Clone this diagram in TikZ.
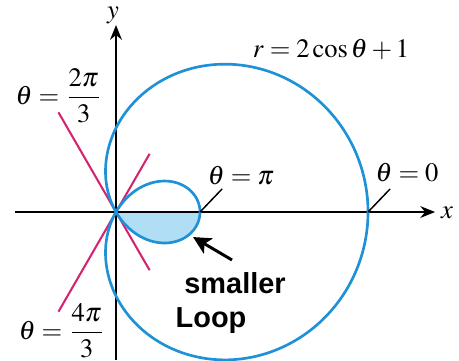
\documentclass[tikz,border=0pt]{standalone}
\usepackage{mathptmx}
\usepackage{fontspec}
\newfontfamily\labfont{Liberation Sans}
\usetikzlibrary{arrows.meta}
\definecolor{curveblue}{RGB}{30,145,215}
\definecolor{loopfill}{RGB}{175,222,245}
\definecolor{linepink}{RGB}{212,35,112}
\tikzset{
  axis/.style={line width=0.7pt,-{Stealth[length=5pt,width=4pt]}},
  curve/.style={curveblue,line width=0.9pt},
  ray/.style={linepink,line width=0.7pt},
  tick/.style={line width=0.5pt},
  mlabel/.style={inner sep=0pt,font=\fontsize{9}{10}\selectfont},
  blabel/.style={inner sep=0pt,font=\labfont\bfseries\fontsize{9.8}{11}\selectfont},
  pointer/.style={line width=1pt,-{Stealth[length=6pt,width=6pt,inset=1.5pt]}}
}
\begin{document}
\begin{tikzpicture}
\useasboundingbox (-1.381,-1.762) rectangle (4.083,2.524);
% filled lower half of the small loop
\fill[loopfill] plot[domain=120:180,samples=60,smooth,variable=\t]
  ({(2*cos(\t)+1)*cos(\t)},{(2*cos(\t)+1)*sin(\t)}) -- cycle;
% coordinates
\coordinate (O) at (0,0);
\coordinate (xs) at (-1.202,0);
\coordinate (xe) at (3.798,0);
\coordinate (ys) at (0,-1.762);
\coordinate (ye) at (0,2.226);
\coordinate (r1a) at (120:1.37);
\coordinate (r1b) at (-60:0.80);
\coordinate (r2a) at (240:1.37);
\coordinate (r2b) at (60:0.80);
\coordinate (pi0) at (1,0);
\coordinate (pi1) at (1.262,0.274);
\coordinate (z0) at (3,0);
\coordinate (z1) at (3.262,0.274);
\coordinate (arrT) at (1.381,-0.571);
\coordinate (arrH) at (0.917,-0.298);
% pink lines
\draw[ray] (r1a) -- (r1b);
\draw[ray] (r2a) -- (r2b);
% axes
\draw[axis] (xs) -- (xe);
\draw[axis] (ys) -- (ye);
% curve
\draw[curve] plot[domain=0:360,samples=240,smooth cycle,variable=\t]
  ({(2*cos(\t)+1)*cos(\t)},{(2*cos(\t)+1)*sin(\t)});
% tick lines
\draw[tick] (pi0) -- (pi1);
\draw[tick] (z0) -- (z1);
% labels
\node[mlabel] (ylab) at (-0.036,2.34) {$y$};
\node[mlabel] (xlab) at (3.94,-0.012) {$x$};
\node[mlabel] (req) at (2.56,1.93) {$r = 2\cos\theta + 1$};
\node[mlabel] (tpi) at (1.488,0.429) {$\theta = \pi$};
\node[mlabel] (tzero) at (3.464,0.464) {$\theta = 0$};
\node[mlabel] (t23) at (-0.679,1.381) {$\theta = \displaystyle\frac{2\pi}{3}$};
\node[mlabel] (t43) at (-0.643,-1.41) {$\theta = \displaystyle\frac{4\pi}{3}$};
\node[blabel] (sm) at (1.417,-0.845) {smaller};
\node[blabel] (lp) at (1.131,-1.286) {Loop};
\draw[pointer] (arrT) -- (arrH);
\end{tikzpicture}
\end{document}
